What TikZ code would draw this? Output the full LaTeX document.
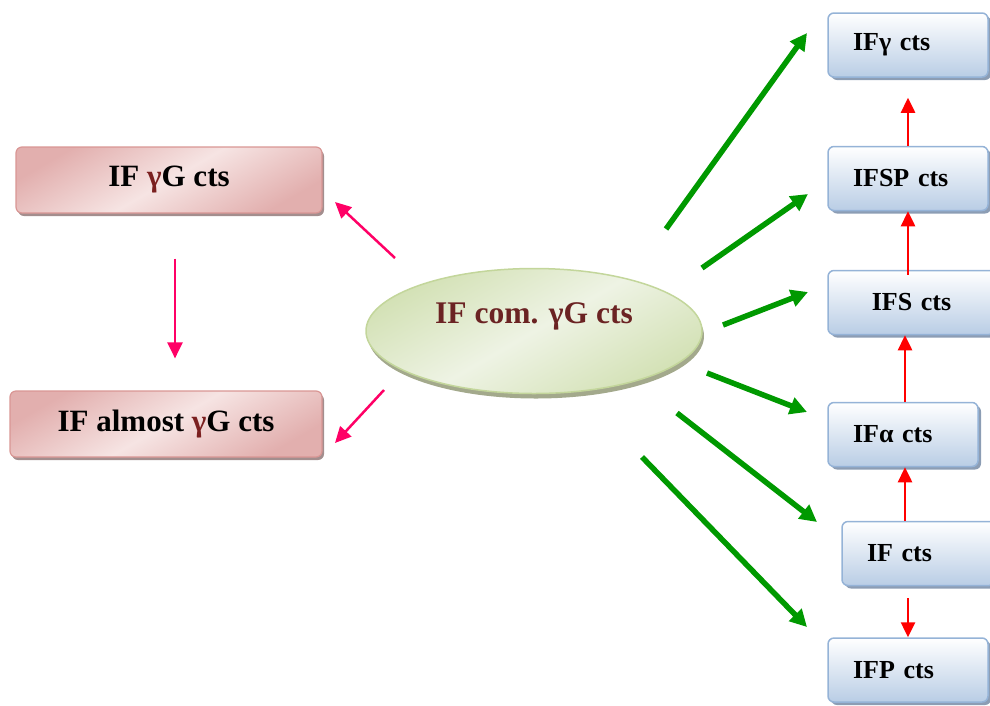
\documentclass[tikz,border=0pt]{standalone}
\usepackage{fontspec}
\setmainfont{Liberation Serif}
\usetikzlibrary{arrows.meta,shapes.geometric,shadows}
\definecolor{pinkbrd}{HTML}{D99694}
\definecolor{pinkdk}{HTML}{E2AFAE}
\definecolor{pinklt}{HTML}{F6E4E3}
\definecolor{pinksh}{HTML}{A38E8E}
\definecolor{bluebrd}{HTML}{95B3D7}
\definecolor{bluedk}{HTML}{B9CDE5}
\definecolor{bluesh}{HTML}{8C9DB4}
\definecolor{grnbrd}{HTML}{C3D69B}
\definecolor{grndk}{HTML}{D3E1B5}
\definecolor{grnlt}{HTML}{EEF3E4}
\definecolor{grnsh}{HTML}{A3A98C}
\definecolor{comtext}{HTML}{6B2323}
\definecolor{gamtext}{HTML}{7B2020}
\definecolor{arrgreen}{HTML}{009900}
\definecolor{arrpink}{HTML}{FF0066}
\newcommand{\gG}{{\color{gamtext}γ}G}

\begin{document}
\begin{tikzpicture}[x=1pt,y=-1pt,
	lbox/.style={draw=pinkbrd,line width=1.2pt,rounded corners=6pt,minimum height=66pt,
		top color=pinkdk,bottom color=pinkdk,middle color=pinklt,shading angle=30,
		drop shadow={shadow xshift=2pt,shadow yshift=-3pt,fill=pinksh,opacity=1},
		font=\bfseries\fontsize{31}{36}\selectfont},
	rbox/.style={draw=bluebrd,line width=1.5pt,rounded corners=6pt,minimum height=64pt,
		top color=white,bottom color=bluedk,inner xsep=25pt,align=left,
		drop shadow={shadow xshift=3pt,shadow yshift=-3pt,fill=bluesh,opacity=1},
		font=\bfseries\fontsize{26}{30}\selectfont},
	comm/.style={ellipse,draw=grnbrd,line width=1.5pt,minimum width=336pt,minimum height=125pt,
		top color=grndk,bottom color=grndk,middle color=grnlt,shading angle=30,
		drop shadow={shadow xshift=2pt,shadow yshift=-5pt,fill=grnsh,opacity=1}},
	grnarr/.style={draw=arrgreen,line width=5.5pt,-{Triangle[length=17pt,width=17pt]}},
	redarr/.style={draw=red,line width=2.5pt,-{Triangle[length=15pt,width=14pt]}},
	pinkarr/.style={draw=arrpink,line width=2.5pt,-{Triangle[length=16pt,width=15pt]}}]
	\useasboundingbox (0,0) rectangle (990,705);
	% left side
	\node[lbox,minimum width=306pt] (gyg) at (169,180) {IF \gG{} cts};
	\node[lbox,minimum width=312pt] (alm) at (166,424) {IF almost \gG{} cts};
	% centre
	\node[comm] (com) at (534,331) {};
	\node[font=\bfseries\fontsize{31.5}{36}\selectfont,text=comtext] (comt) at ([yshift=15pt]com.center) {IF com. γG cts};
	% right column
	\node[rbox,text width=110pt] (gam) at (908,45) {IFγ cts};
	\node[rbox,text width=110pt] (sp) at (908,178.5) {IFSP cts};
	\node[rbox,text width=117pt,align=center] (s) at (911.5,302.5) {IFS cts};
	\node[rbox,text width=100pt] (a) at (903,434.5) {IFα cts};
	\node[rbox,text width=103pt] (i) at (918.5,553.5) {IF cts};
	\node[rbox,text width=110pt] (p) at (908,670) {IFP cts};
	% green arrows
	\coordinate (c1) at (666,229); \coordinate (t1) at (807,33);
	\coordinate (c2) at (702,268); \coordinate (t2) at (808,194);
	\coordinate (c3) at (723,325); \coordinate (t3) at (808,292);
	\coordinate (c4) at (707,373); \coordinate (t4) at (807,412);
	\coordinate (c5) at (677,413); \coordinate (t5) at (817,522);
	\coordinate (c6) at (642,457); \coordinate (t6) at (807,627);
	\foreach \k in {1,...,6}
		\draw[grnarr] (c\k) -- (t\k);
	% pink arrows
	\coordinate (q1) at (395,258); \coordinate (u1) at (335,202);
	\coordinate (q2) at (384,390); \coordinate (u2) at (335,443);
	\draw[pinkarr] (q1) -- (u1);
	\draw[pinkarr] (q2) -- (u2);
	\draw[pinkarr,shorten <=45pt,shorten >=32pt] ([xshift=6pt]gyg.south) -- ([xshift=9pt]alm.north);
	% red arrows
	\draw[redarr,shorten >=20pt] (sp.north) -- (gam.south);
	\draw[redarr,shorten <=-5pt] (s.north -| sp.south) -- (sp.south);
	\draw[redarr] (a.north -| 905,0) -- (s.south -| 905,0);
	\draw[redarr] (i.north -| 905,0) -- (a.south -| 905,0);
	\draw[redarr,shorten <=12pt] (p.north |- i.south) -- (p.north);
\end{tikzpicture}
\end{document}
